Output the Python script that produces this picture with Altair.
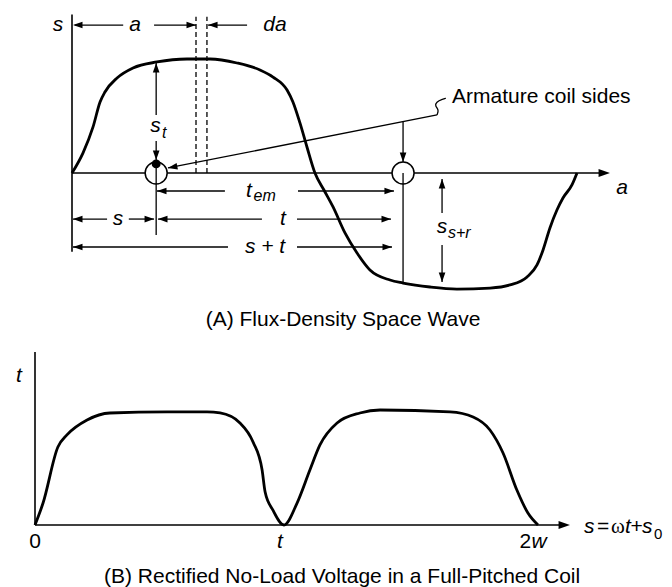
import math
import altair as alt
import pandas as pd

# ------------------------------------------------------------------
# DATA
# ------------------------------------------------------------------
# (A) flux-density space wave: a = electrical angle (deg), B = flux density (p.u.)
A_ANGLE = [0, 7.8, 15.0, 20.0, 23.5, 32.1, 43.5, 60.6, 82.0, 98.4, 117.6, 134.0,
           143.3, 153.3, 157.5, 162.5, 167.5, 173.2, 179.6, 186.1, 194.6, 203.2,
           212.4, 226.7, 236.0, 255.2, 274.4, 298.0, 312.2, 324.4, 331.5, 335.8,
           340.7, 345.7, 350.0, 356.4, 360.0]
A_FLUX = [0, 0.175, 0.404, 0.623, 0.711, 0.833, 0.921, 0.974, 1.0, 1.0, 0.965, 0.904,
          0.842, 0.728, 0.623, 0.439, 0.228, 0, -0.149, -0.298, -0.526, -0.702,
          -0.851, -0.939, -0.965, -1.0, -1.018, -1.009, -0.982, -0.912, -0.807, -0.675,
          -0.482, -0.325, -0.219, -0.105, 0]

# (B) rectified no-load voltage: time in units of t (0 .. 2), voltage (p.u.)
B_TIME = [0, 0.032, 0.091, 0.127, 0.207, 0.298, 0.525, 0.684, 0.736, 0.815,
          0.867, 0.903, 0.915, 0.946, 0.990, 1.042, 1.093, 1.133, 1.201, 1.292, 1.372,
          1.650, 1.742, 1.809, 1.861, 1.916, 1.960, 2.0]
B_VOLT = [0, 0.191, 0.678, 0.783, 0.913, 0.974, 0.983, 0.983, 0.974, 0.887,
          0.722, 0.478, 0.287, 0.130, 0, 0.191, 0.478, 0.696, 0.887, 0.974, 1.0,
          0.983, 0.939, 0.826, 0.626, 0.304, 0.104, 0]

# coil sides (deg) and annotation levels in panel A
COIL_SIDES = [60, 236]
ROW_TOP, ROW_TEM, ROW_T, ROW_ST = 1.298, -0.158, -0.404, -0.649
DASHED_AT = [88.4, 96.2]

# segments of panel A: (x, y, x2, y2)
A_AXES = [(0, -0.69, 0, 1.39), (0, 0, 380, 0)]
A_DIM = [
    (2.0, ROW_TOP, 36.5, ROW_TOP), (58.5, ROW_TOP, 88.4, ROW_TOP),
    (97.0, ROW_TOP, 124.8, ROW_TOP),
    (60, 0.965, 60, 0.509), (60, 0.281, 60, 0.114),
    (236, 0.45, 236, 0.096),
    (68.4, 0.044, 260.2, 0.509),
    (60.6, ROW_TEM, 109.0, ROW_TEM), (161.1, ROW_TEM, 229.5, ROW_TEM),
    (0.7, ROW_T, 25.0, ROW_T), (40.5, ROW_T, 58.5, ROW_T),
    (61.3, ROW_T, 135.4, ROW_T), (160.4, ROW_T, 227.4, ROW_T),
    (0.7, ROW_ST, 111.2, ROW_ST), (160.4, ROW_ST, 228.1, ROW_ST),
    (263.8, -0.053, 263.8, -0.351), (263.8, -0.632, 263.8, -0.956),
]
A_DASHED = [(DASHED_AT[0], 0, DASHED_AT[0], 1.37), (DASHED_AT[1], 0, DASHED_AT[1], 1.37)]
A_OVER_CIRCLES = [(60, 0.08, 60, -0.544), (236, 0, 236, -0.965)]
LEADER_HOOK_X = [260.2, 261.6, 258.8, 259.5, 264.4, 266.5]
LEADER_HOOK_Y = [0.509, 0.553, 0.588, 0.623, 0.649, 0.655]

# arrowheads of panel A: (x, y, direction)
A_HEADS = [
    (0.7, ROW_TOP, "left"), (97.0, ROW_TOP, "left"), (60.6, ROW_TEM, "left"),
    (0.7, ROW_T, "left"), (61.3, ROW_T, "left"), (0.7, ROW_ST, "left"),
    (88.4, ROW_TOP, "right"), (229.5, ROW_TEM, "right"), (58.5, ROW_T, "right"),
    (227.4, ROW_T, "right"), (228.1, ROW_ST, "right"),
    (60, 0.965, "up"), (263.8, -0.053, "up"),
    (60, 0.114, "down"), (236, 0.096, "down"), (263.8, -0.956, "down"),
]

# texts of panel A: (x, y, text)
A_ITALIC = [(-10, 1.298, "s"), (44.9, ROW_TOP, "a"), (144.7, ROW_TOP, "da"),
            (59.5, 0.41, "s"), (126.2, ROW_TEM, "t"), (32.8, ROW_T, "s"),
            (150.4, ROW_T, "t"), (137.6, ROW_ST, "s + t"), (263.8, -0.475, "s"),
            (392.1, -0.132, "a")]
A_SUBS = [(64.2, 0.35, "t"), (129.4, -0.20, "em"), (268.0, -0.53, "s+r")]
A_CALLOUT = [(270.9, 0.667, "Armature coil sides")]
A_TITLE = [(193.2, -1.289, "(A) Flux-Density Space Wave")]

# panel B
B_AXES = [(0, 0, 0, 1.504), (0, 0, 2.10, 0)]
B_ITALIC_C = [(-0.064, 1.296, "t"), (0.974, -0.148, "t"), (2.004, -0.148, "w")]
B_NORMAL_C = [(0, -0.148, "0"), (1.950, -0.148, "2")]
B_ITALIC_L = [(2.183, -0.017, "s"), (2.346, -0.017, "t"), (2.414, -0.017, "s")]
B_NORMAL_L = [(2.235, -0.017, "="), (2.368, -0.017, "+")]
B_SERIF_L = [(2.290, -0.017, "ω")]
B_SUBS = [(2.461, -0.075, "0")]
B_TITLE = [(1.221, -0.452, "(B) Rectified No-Load Voltage in a Full-Pitched Coil")]

# ------------------------------------------------------------------
# SCALES / STYLE
# ------------------------------------------------------------------
W, H = 656, 579
SCALES = {
    "A": dict(xd=[0, 360], xr=[64, 569], yd=[0, 1], yr=[165, 51]),
    "B": dict(xd=[0, 2], xr=[27, 530], yd=[0, 1], yr=[517, 402]),
}
FONT = "Liberation Sans"
INK = "black"
LABEL, SUB, TITLE = 21, 15, 21
HEAD_PATH = {
    "right": "M0,0L-2,-0.7L-2,0.7Z",
    "left": "M0,0L2,-0.7L2,0.7Z",
    "up": "M0,0L-0.7,2L0.7,2Z",
    "down": "M0,0L-0.7,-2L0.7,-2Z",
}


def pos(panel):
    s = SCALES[panel]
    return dict(
        x=alt.X("x:Q", axis=None,
                scale=alt.Scale(domain=s["xd"], range=s["xr"], nice=False, zero=False)),
        y=alt.Y("y:Q", axis=None,
                scale=alt.Scale(domain=s["yd"], range=s["yr"], nice=False, zero=False)),
    )


def segs(panel, rows, width, dash=None):
    df = pd.DataFrame(rows, columns=["x", "y", "x2", "y2"])
    kw = dict(color=INK, strokeWidth=width)
    if dash:
        kw["strokeDash"] = dash
    return alt.Chart(df).mark_rule(**kw).encode(
        **pos(panel), x2=alt.X2("x2:Q"), y2=alt.Y2("y2:Q"))


def curve(panel, xs, ys, width, interp="monotone"):
    df = pd.DataFrame({"x": xs, "y": ys, "i": range(len(xs))})
    return alt.Chart(df).mark_line(color=INK, strokeWidth=width, interpolate=interp).encode(
        **pos(panel), order=alt.Order("i:Q"))


def heads(panel, rows, size):
    df = pd.DataFrame(rows, columns=["x", "y", "d", "ang"])
    df["shape"] = df["d"].map(HEAD_PATH)
    return alt.Chart(df).mark_point(filled=True, color=INK, opacity=1, size=size,
                                    strokeWidth=0).encode(
        **pos(panel), shape=alt.Shape("shape:N", scale=None),
        angle=alt.Angle("ang:Q", scale=None))


def texts(panel, rows, size, italic=False, align="center", font=FONT):
    df = pd.DataFrame(rows, columns=["x", "y", "label"])
    return alt.Chart(df).mark_text(
        fontSize=size, fontStyle="italic" if italic else "normal", align=align,
        baseline="middle", font=font, color=INK).encode(**pos(panel), text="label:N")


# angle of the leader arrowhead, from the scale mapping
sA = SCALES["A"]
kx = (sA["xr"][1] - sA["xr"][0]) / (sA["xd"][1] - sA["xd"][0])
ky = (sA["yr"][1] - sA["yr"][0]) / (sA["yd"][1] - sA["yd"][0])
lx0, ly0, lx1, ly1 = A_DIM[6]
leader_angle = math.degrees(math.atan2((ly0 - ly1) * ky, (lx0 - lx1) * kx)) % 360

circles = pd.DataFrame({"x": COIL_SIDES, "y": [0, 0]})
dot = pd.DataFrame({"x": [60], "y": [0.08]})

layers = [
    # panel A
    segs("A", A_AXES, 1.6),
    segs("A", A_DASHED, 1.3, dash=[5, 3]),
    curve("A", A_ANGLE, A_FLUX, 2.8),
    segs("A", A_DIM, 1.3),
    curve("A", LEADER_HOOK_X, LEADER_HOOK_Y, 1.3, interp="basis"),
    alt.Chart(circles).mark_point(shape="circle", size=484, filled=False, fill="white",
                                  fillOpacity=1, stroke=INK, strokeWidth=1.5,
                                  opacity=1).encode(**pos("A")),
    segs("A", A_OVER_CIRCLES, 1.3),
    alt.Chart(dot).mark_point(shape="circle", size=80, filled=True, color=INK,
                              opacity=1).encode(**pos("A")),
    heads("A", [(x, y, d, 0) for x, y, d in A_HEADS], 90),
    heads("A", [(68.4, 0.044, "right", leader_angle)], 90),
    heads("A", [(383.5, 0, "right", 0)], 130),
    texts("A", A_ITALIC, LABEL, italic=True),
    texts("A", A_SUBS, SUB + 1, italic=True, align="left"),
    texts("A", A_CALLOUT, LABEL, align="left"),
    texts("A", A_TITLE, TITLE),
    # panel B
    segs("B", B_AXES, 1.6),
    curve("B", B_TIME, B_VOLT, 2.8),
    heads("B", [(2.127, 0, "right", 0)], 130),
    texts("B", B_ITALIC_C, LABEL, italic=True),
    texts("B", B_NORMAL_C, LABEL),
    texts("B", B_ITALIC_L, LABEL, italic=True, align="left"),
    texts("B", B_NORMAL_L, LABEL, align="left"),
    texts("B", B_SERIF_L, LABEL, align="left", font="Liberation Serif"),
    texts("B", B_SUBS, SUB, align="left"),
    texts("B", B_TITLE, TITLE),
]

chart = alt.layer(*layers).resolve_scale(x="independent", y="independent").properties(
    width=W, height=H, padding=0, autosize=alt.AutoSizeParams(type="none"),
    background="white",
).configure_view(stroke=None)

chart.save("out.html", embed_options={"renderer": "svg", "actions": False})
